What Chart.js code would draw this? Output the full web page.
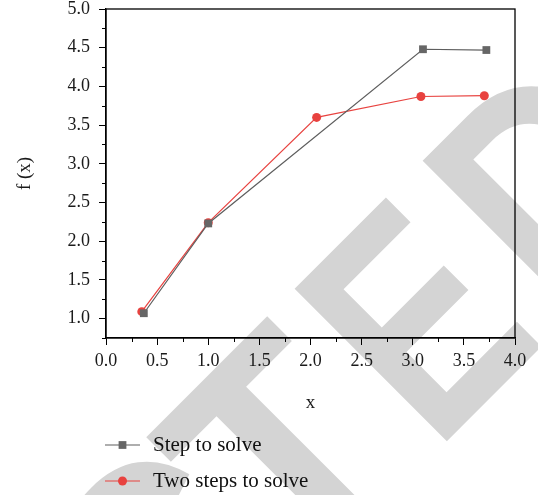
<!DOCTYPE html>
<html>
<head>
<meta charset="utf-8">
<script src="https://cdn.jsdelivr.net/npm/chart.js"></script>
<style>
  body { margin: 0; background: #fff; }
  #wrap { width: 538px; height: 495px; }
</style>
</head>
<body>
<div id="wrap"><canvas id="myChart" width="538" height="495"></canvas></div>
<script>
// series names and values
const seriesNames = ['Step to solve', 'Two steps to solve'];
const stepX = [0.37, 1.0, 3.1, 3.72];
const stepY = [1.07, 2.23, 4.48, 4.47];
const twoX = [0.35, 1.0, 2.06, 3.08, 3.70];
const twoY = [1.09, 2.24, 3.60, 3.87, 3.88];

// tick labels
const xTicks = [0.0, 0.5, 1.0, 1.5, 2.0, 2.5, 3.0, 3.5, 4.0];
const yTicks = [1.0, 1.5, 2.0, 2.5, 3.0, 3.5, 4.0, 4.5, 5.0];
const xMinor = [0.25, 0.75, 1.25, 1.75, 2.25, 2.75, 3.25, 3.75];
const yMinor = [0.75, 1.25, 1.75, 2.25, 2.75, 3.25, 3.75, 4.25, 4.75];

const watermark = 'RETRACTED';

const toPoints = (xs, ys) => xs.map((x, i) => ({ x: x, y: ys[i] }));

Chart.defaults.font.family = '"Liberation Serif", "DejaVu Serif", serif';
Chart.defaults.color = '#1a1a1a';

// grey diagonal stamp behind the plot
const stampPlugin = {
    id: 'stamp',
    beforeDraw(chart) {
        const ctx = chart.ctx;
        ctx.save();
        ctx.fillStyle = '#fff';
        ctx.fillRect(0, 0, chart.width, chart.height);
        ctx.translate(444, 444);
        ctx.rotate(-Math.PI / 4);
        ctx.fillStyle = '#d4d4d4';
        ctx.font = 'bold 313px "Liberation Sans", "DejaVu Sans", sans-serif';
        ctx.textBaseline = 'alphabetic';
        // left edge and width of each letter along the baseline
        const lefts = [-1200, -1000, -800, -600, -420, -372, -209, 3, 184];
        const widths = [170, 138, 177, 170, 175, 175, 177, 138, 160];
        for (let i = 0; i < watermark.length; i++) {
            const ch = watermark[i];
            const m = ctx.measureText(ch);
            const w = m.actualBoundingBoxLeft + m.actualBoundingBoxRight;
            ctx.save();
            ctx.translate(lefts[i], 0);
            ctx.scale(widths[i] / w, 1);
            ctx.fillText(ch, m.actualBoundingBoxLeft, 0);
            ctx.restore();
        }
        ctx.restore();
    }
};

// box round the plot and the small minor ticks
const framePlugin = {
    id: 'frame',
    afterDraw(chart) {
        const ctx = chart.ctx;
        const a = chart.chartArea;
        const xs = chart.scales.x, ys = chart.scales.y;
        ctx.save();
        ctx.strokeStyle = '#000';
        ctx.lineWidth = 1.3;
        ctx.strokeRect(a.left, a.top, a.right - a.left, a.bottom - a.top);
        ctx.lineWidth = 1;
        ctx.beginPath();
        xMinor.forEach(v => {
            const px = Math.round(xs.getPixelForValue(v)) + 0.5;
            ctx.moveTo(px, a.bottom);
            ctx.lineTo(px, a.bottom + 4);
        });
        yMinor.forEach(v => {
            const py = Math.round(ys.getPixelForValue(v)) + 0.5;
            ctx.moveTo(a.left, py);
            ctx.lineTo(a.left - 4, py);
        });
        ctx.stroke();
        ctx.restore();
    }
};

// legend stacked under the x title
const legendPlugin = {
    id: 'stackedLegend',
    afterDraw(chart) {
        const ctx = chart.ctx;
        const rows = [445, 481];
        ctx.save();
        chart.data.datasets.forEach((ds, i) => {
            const y = rows[i];
            ctx.strokeStyle = ds.borderColor;
            ctx.lineWidth = ds.borderWidth;
            ctx.beginPath();
            ctx.moveTo(105, y);
            ctx.lineTo(140, y);
            ctx.stroke();
            ctx.fillStyle = ds.pointBackgroundColor;
            ctx.strokeStyle = ds.pointBorderColor;
            Chart.helpers.drawPoint(ctx, {
                pointStyle: ds.pointStyle,
                radius: ds.pointRadius,
                rotation: 0,
                borderWidth: 0
            }, 122.5, y);
            ctx.fillStyle = '#111';
            ctx.font = '21px "Liberation Serif", "DejaVu Serif", serif';
            ctx.textBaseline = 'middle';
            ctx.textAlign = 'left';
            ctx.fillText(ds.label, 153, y);
        });
        ctx.restore();
    }
};

const ctx = document.getElementById('myChart').getContext('2d');
const myChart = new Chart(ctx, {
    type: 'line',
    data: {
        datasets: [{
            label: seriesNames[0],
            data: toPoints(stepX, stepY),
            borderColor: '#5e5e5e',
            backgroundColor: '#666666',
            pointBackgroundColor: '#666666',
            pointBorderColor: '#666666',
            pointStyle: 'rect',
            pointRadius: 5.5,
            pointBorderWidth: 0,
            borderWidth: 1.2,
            tension: 0
        }, {
            label: seriesNames[1],
            data: toPoints(twoX, twoY),
            borderColor: '#e8423f',
            backgroundColor: '#e8423f',
            pointBackgroundColor: '#e8423f',
            pointBorderColor: '#e8423f',
            pointStyle: 'circle',
            pointRadius: 4.5,
            pointBorderWidth: 0,
            borderWidth: 1.2,
            tension: 0
        }]
    },
    options: {
        responsive: false,
        animation: false,
        layout: { padding: { left: 0, top: 9, right: 23, bottom: 77 } },
        plugins: {
            legend: { display: false },
            tooltip: { enabled: false }
        },
        scales: {
            x: {
                type: 'linear',
                min: 0,
                max: 4,
                afterBuildTicks: s => { s.ticks = xTicks.map(v => ({ value: v })); },
                afterFit: s => { s.height = 80; s.paddingLeft = 0; s.paddingRight = 0; },
                ticks: {
                    font: { size: 18 },
                    padding: 5,
                    maxRotation: 0,
                    callback: v => Number(v).toFixed(1)
                },
                grid: {
                    drawOnChartArea: false,
                    drawTicks: true,
                    tickLength: 7,
                    tickColor: '#000',
                    tickWidth: 1
                },
                border: { color: '#000', width: 1.3 },
                title: {
                    display: true,
                    text: 'x',
                    font: { size: 19 },
                    padding: { top: 0, bottom: 4 }
                }
            },
            y: {
                type: 'linear',
                min: 0.75,
                max: 5,
                afterBuildTicks: s => { s.ticks = yTicks.map(v => ({ value: v })); },
                afterFit: s => { s.width = 106; s.paddingTop = 0; s.paddingBottom = 0; },
                ticks: {
                    font: { size: 18, lineHeight: 1 },
                    padding: 9,
                    callback: v => Number(v).toFixed(1)
                },
                grid: {
                    drawOnChartArea: false,
                    drawTicks: true,
                    tickLength: 7,
                    tickColor: '#000',
                    tickWidth: 1
                },
                border: { color: '#000', width: 1.3 },
                title: {
                    display: true,
                    text: 'f (x)',
                    font: { size: 19 },
                    padding: { top: 14, bottom: 0 }
                }
            }
        }
    },
    plugins: [stampPlugin, framePlugin, legendPlugin]
});
</script>
</body>
</html>
